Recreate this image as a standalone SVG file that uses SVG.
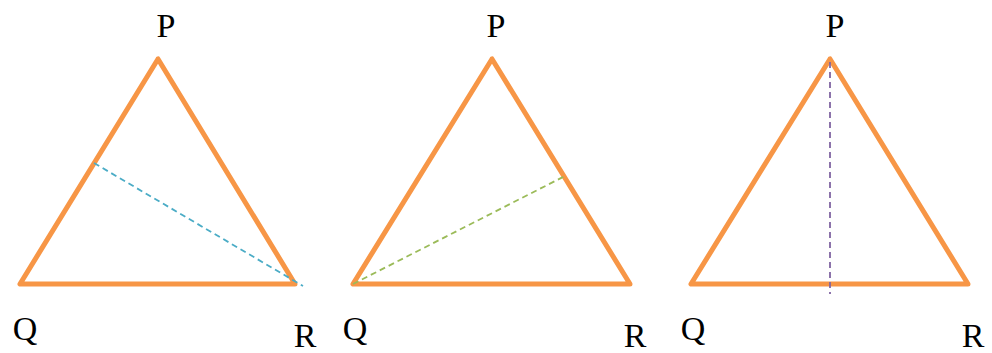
<svg xmlns="http://www.w3.org/2000/svg" width="992" height="353" viewBox="0 0 992 353">
<style>
.tri{fill:none;stroke:#F79646;stroke-width:5;stroke-linejoin:round;stroke-linecap:round}
.d{stroke-width:1.8;stroke-dasharray:6 4;fill:none}
.lbl{font-family:"Liberation Serif","Times New Roman",serif;font-size:34px;fill:#000}
</style>
<rect width="992" height="353" fill="#fff"/>
<g id="t1">
<polygon class="tri" points="158,59 20,284 295,284"/>
<text class="lbl" x="166" y="37" text-anchor="middle">P</text>
<text class="lbl" x="25" y="340" text-anchor="middle">Q</text>
<text class="lbl" x="305" y="347" text-anchor="middle">R</text>
</g>
<g id="t2">
<polygon class="tri" points="492,59 353,284 630,284"/>
<text class="lbl" x="496" y="37" text-anchor="middle">P</text>
<text class="lbl" x="355" y="340" text-anchor="middle">Q</text>
<text class="lbl" x="635" y="347" text-anchor="middle">R</text>
</g>
<g id="t3">
<polygon class="tri" points="830,59 691,284 968,284"/>
<text class="lbl" x="835" y="37" text-anchor="middle">P</text>
<text class="lbl" x="693" y="340" text-anchor="middle">Q</text>
<text class="lbl" x="973" y="347" text-anchor="middle">R</text>
</g>
<g id="connectors">
<line class="d" x1="94" y1="163" x2="303" y2="286" stroke="#4BACC6"/>
<line class="d" x1="353" y1="284" x2="565" y2="176" stroke="#9BBB59"/>
<line class="d" x1="830" y1="62" x2="830" y2="294" stroke="#8064A2"/>
</g>
</svg>
